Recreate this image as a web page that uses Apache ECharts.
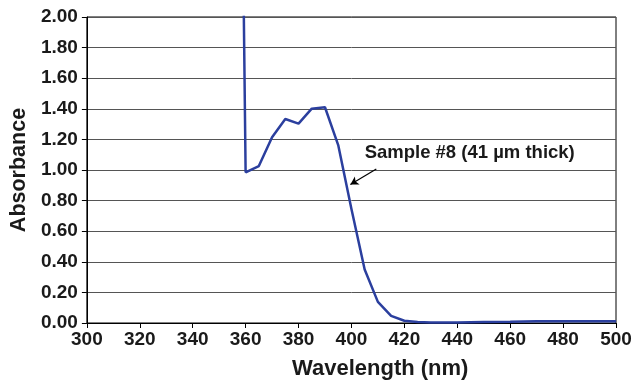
<!DOCTYPE html>
<html>
<head>
<meta charset="utf-8">
<script src="https://cdn.jsdelivr.net/npm/echarts@6/dist/echarts.min.js"></script>
<style>html,body{margin:0;padding:0;background:#fff}#c{width:635px;height:380px}</style>
</head>
<body>
<div id="c"></div>
<script>
const wavelengths = [359, 360, 365, 370, 375, 380, 385, 390, 395, 400, 405, 410, 415, 420, 425, 430, 440, 450, 460, 470, 480, 490, 500];
const absorbance = [2.5, 0.985, 1.026, 1.214, 1.333, 1.303, 1.401, 1.410, 1.163, 0.745, 0.350, 0.138, 0.047, 0.015, 0.006, 0.004, 0.004, 0.006, 0.008, 0.012, 0.012, 0.011, 0.012];
const xTicks = { min: 300, max: 500, step: 20 };
const yTicks = { min: 0, max: 2, step: 0.2 };
const annotationText = 'Sample #8 (41 \u00b5m thick)';
const annotationPos = [444.7, 1.11];
const arrowFrom = [409.4, 1.006];
const arrowTo = [399.6, 0.905];

const FONT = '"Liberation Sans", Arial, sans-serif';
const TXT = '#1a1a1a';
const chart = echarts.init(document.getElementById('c'), null, { renderer: 'canvas' });
chart.setOption({
  animation: false,
  backgroundColor: '#fff',
  grid: { left: 86, right: 19, top: 17, bottom: 57, show: true, borderColor: '#000', borderWidth: 1 },
  xAxis: {
    type: 'value', min: xTicks.min, max: xTicks.max, interval: xTicks.step,
    axisLine: { lineStyle: { color: '#000', width: 1 } },
    axisTick: { show: true, length: 5, lineStyle: { color: '#000' } },
    axisLabel: { color: TXT, fontFamily: FONT, fontWeight: 'bold', fontSize: 19, margin: 7 },
    splitLine: { show: false }
  },
  yAxis: {
    type: 'value', min: yTicks.min, max: yTicks.max, interval: yTicks.step,
    name: 'Absorbance', nameLocation: 'middle', nameGap: 56,
    nameTextStyle: { color: TXT, fontFamily: FONT, fontWeight: 'bold', fontSize: 21.5 },
    axisLine: { show: true, lineStyle: { color: '#000', width: 1 } },
    axisTick: { show: true, length: 5, lineStyle: { color: '#000' } },
    axisLabel: { color: TXT, fontFamily: FONT, fontWeight: 'bold', fontSize: 19, margin: 9,
      formatter: v => v.toFixed(2) },
    splitLine: { show: true, lineStyle: { color: '#555', width: 1 } }
  },
  graphic: [{
    type: 'text', left: 292, top: 358,
    style: { text: 'Wavelength (nm)', fill: TXT, font: 'bold 22px "Liberation Sans", Arial, sans-serif' }
  }],
  series: [{
    type: 'line',
    data: wavelengths.map((w, i) => [w, absorbance[i]]),
    showSymbol: false, smooth: false, clip: true,
    lineStyle: { color: '#2b3f9e', width: 2.5 },
    markPoint: {
      symbol: 'circle', symbolSize: 0, silent: true,
      label: { show: true, position: 'inside', formatter: annotationText, color: TXT,
        fontFamily: FONT, fontWeight: 'bold', fontSize: 18.5 },
      data: [{ coord: annotationPos }]
    },
    markLine: {
      silent: true, symbol: ['none', 'arrow'], symbolSize: [7, 8],
      lineStyle: { color: '#000', width: 1.2, type: 'solid' },
      label: { show: false },
      data: [[{ coord: arrowFrom }, { coord: arrowTo }]]
    }
  }]
});
</script>
</body>
</html>
